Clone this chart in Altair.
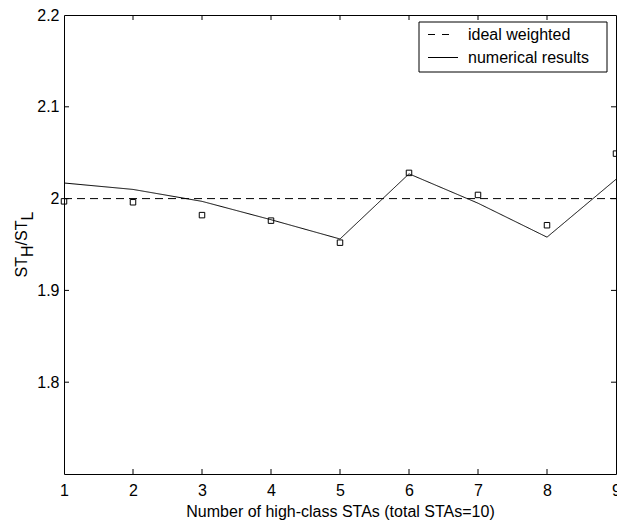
import altair as alt
import pandas as pd

# ---- data ----
x_vals = [1, 2, 3, 4, 5, 6, 7, 8, 9]
ideal_weighted = [2.0, 2.0, 2.0, 2.0, 2.0, 2.0, 2.0, 2.0, 2.0]
numerical_results = [2.017, 2.010, 1.997, 1.977, 1.956, 2.027, 1.995, 1.958, 2.021]
sim_points = [1.997, 1.996, 1.982, 1.976, 1.952, 2.028, 2.004, 1.971, 2.049]
series_names = ["ideal weighted", "numerical results"]
x_tick_vals = [2, 3, 4, 5, 6, 7, 8]
y_tick_vals = [1.8, 1.9, 2.0, 2.1]
y_label_vals = [1.8, 1.9, 2.0, 2.1, 2.2]
x_label_vals = [1, 2, 3, 4, 5, 6, 7, 8, 9]

FONT = "Liberation Sans"
W, H = 552, 459

lines_df = pd.DataFrame({
    "x": x_vals + x_vals,
    "y": ideal_weighted + numerical_results,
    "series": [series_names[0]] * len(x_vals) + [series_names[1]] * len(x_vals),
})
pts_df = pd.DataFrame({"x": x_vals, "y": sim_points})
xt_df = pd.DataFrame({"x": x_tick_vals})
yt_df = pd.DataFrame({"y": y_tick_vals})

xs = alt.Scale(domain=[1, 9], nice=False, zero=False)
ys = alt.Scale(domain=[1.7, 2.2], nice=False, zero=False)

lines = alt.Chart(lines_df).mark_line(color="black", strokeWidth=1).encode(
    x=alt.X("x:Q", scale=xs, axis=alt.Axis(
        values=x_label_vals, format="d", ticks=False, grid=False, domain=False,
        labelFont=FONT, labelFontSize=16, labelColor="black", labelPadding=8,
        labelFlush=False, labelOverlap=False,
        title="Number of high-class STAs (total STAs=10)", titleFont=FONT,
        titleFontSize=16, titleFontWeight="normal", titleColor="black", titlePadding=5)),
    y=alt.Y("y:Q", scale=ys, axis=alt.Axis(
        values=y_label_vals, format="~g", ticks=False, grid=False, domain=False,
        labelFont=FONT, labelFontSize=16, labelColor="black", labelPadding=5,
        labelFlush=False, labelOverlap=False, title="")),
    strokeDash=alt.StrokeDash("series:N", scale=alt.Scale(domain=series_names, range=[[8, 5], [1, 0]]),
                              legend=None),
    order="x:Q",
)

points = alt.Chart(pts_df).mark_point(shape="square", filled=False, size=30, color="black",
                                      strokeWidth=1, opacity=1).encode(
    x=alt.X("x:Q", scale=xs), y=alt.Y("y:Q", scale=ys))

tick_style = dict(color="black", strokeWidth=1)
xt_bottom = alt.Chart(xt_df).mark_rule(**tick_style).encode(
    x=alt.X("x:Q", scale=xs), y=alt.value(H), y2=alt.value(H - 5))
xt_top = alt.Chart(xt_df).mark_rule(**tick_style).encode(
    x=alt.X("x:Q", scale=xs), y=alt.value(0), y2=alt.value(5))
yt_left = alt.Chart(yt_df).mark_rule(**tick_style).encode(
    y=alt.Y("y:Q", scale=ys), x=alt.value(0), x2=alt.value(5))
yt_right = alt.Chart(yt_df).mark_rule(**tick_style).encode(
    y=alt.Y("y:Q", scale=ys), x=alt.value(W), x2=alt.value(W - 5))

# ---- legend box (manual, MATLAB style) ----
one = pd.DataFrame({"k": [0]})
leg_box = alt.Chart(one).mark_rect(fill="white", stroke="black", strokeWidth=1).encode(
    x=alt.value(355), x2=alt.value(543), y=alt.value(7), y2=alt.value(57))
leg_dash = alt.Chart(one).mark_rule(color="black", strokeWidth=1, strokeDash=[7, 7]).encode(
    x=alt.value(364), x2=alt.value(385), y=alt.value(19.5))
leg_solid = alt.Chart(one).mark_rule(color="black", strokeWidth=1).encode(
    x=alt.value(364), x2=alt.value(394), y=alt.value(42.5))

def leg_text(txt, ypos):
    return alt.Chart(pd.DataFrame({"label": [txt]})).mark_text(
        align="left", baseline="middle", font=FONT, fontSize=16, color="black"
    ).encode(text="label:N", x=alt.value(404), y=alt.value(ypos))

leg_t1 = leg_text(series_names[0], 20)
leg_t2 = leg_text(series_names[1], 43)

# ---- y-axis title ST_H/ST_L with subscripts ----
def ytext(txt, xpos, ypos):
    return alt.Chart(pd.DataFrame({"label": [txt]})).mark_text(
        angle=270, align="left", baseline="alphabetic", font=FONT, fontSize=16, color="black"
    ).encode(text="label:N", x=alt.value(xpos), y=alt.value(ypos))

yt1 = ytext("ST", -37.3, 262.4)
yt2 = ytext("H", -30.7, 242.0)
yt3 = ytext("/ST", -37.3, 230.4)
yt4 = ytext("L", -30.7, 205.5)

chart = alt.layer(
    lines, points, xt_bottom, xt_top, yt_left, yt_right,
    leg_box, leg_dash, leg_solid, leg_t1, leg_t2,
    yt1, yt2, yt3, yt4,
).properties(
    width=W, height=H,
    autosize=alt.AutoSizeParams(type="none"),
    padding={"left": 64, "top": 15, "right": 1, "bottom": 52},
    background="white",
).configure_view(stroke="black", strokeWidth=1).configure_axis(grid=False, ticks=False, domain=False)

chart.save("out.html", embed_options={"renderer": "svg", "actions": False})
